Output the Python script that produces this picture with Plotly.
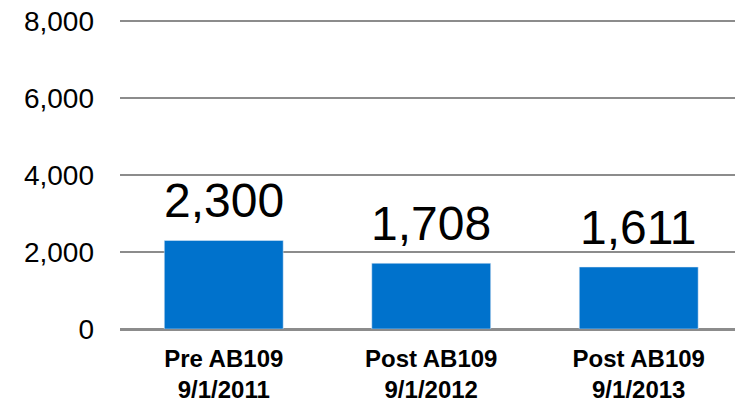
import plotly.graph_objects as go

categories = ["Pre AB109<br>9/1/2011", "Post AB109<br>9/1/2012", "Post AB109<br>9/1/2013"]
values = [2300, 1708, 1611]
y_ticks = [0, 2000, 4000, 6000, 8000]

FONT = "Liberation Sans, Arial, sans-serif"
BAR = "#0072CC"

fig = go.Figure()
fig.add_trace(go.Bar(
    x=categories, y=values, marker_color=BAR, width=0.573,
    hoverinfo="skip",
))

for c, v in zip(categories, values):
    fig.add_annotation(x=c, y=v, text=f"{v:,}", showarrow=False,
                       yanchor="bottom", yshift=11,
                       font=dict(family=FONT, size=48, color="#000"))

fig.update_layout(
    width=735, height=405,
    margin=dict(l=120, r=0, t=20, b=76, autoexpand=False),
    plot_bgcolor="white", paper_bgcolor="white",
    showlegend=False,
    font=dict(family=FONT, color="#000"),
    xaxis=dict(range=[-0.5, 2.464], showgrid=False, showline=False,
               automargin=False,
               tickfont=dict(family=FONT, size=24, color="#000", weight="bold"),
               ticks="", ticklabelstandoff=13),
    yaxis=dict(range=[0, 8030], tickvals=y_ticks,
               ticktext=[f"{t:,}" for t in y_ticks],
               automargin=False,
               showgrid=True, gridcolor="#8c8c8c", gridwidth=1.5,
               zeroline=True, zerolinecolor="#8c8c8c", zerolinewidth=2.5,
               showline=False, ticks="", ticklabelstandoff=25,
               tickfont=dict(family=FONT, size=28, color="#000")),
)

fig.write_html("out.html", config={"displayModeBar": False},
               post_script="document.body.style.margin='0';document.body.style.overflow='hidden';")
